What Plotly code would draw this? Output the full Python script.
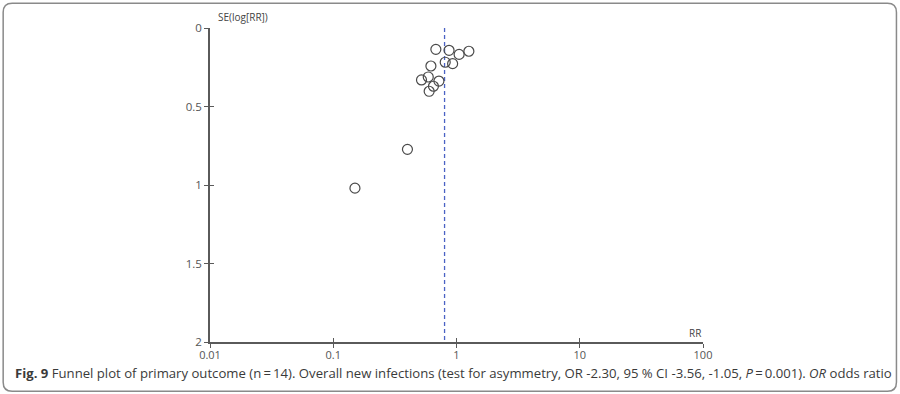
import plotly.graph_objects as go

# ---- data ----
rr = [0.68, 0.87, 1.05, 1.26, 0.81, 0.93, 0.62, 0.59, 0.52, 0.72, 0.65, 0.60, 0.40, 0.15]
se = [0.136, 0.142, 0.168, 0.148, 0.218, 0.227, 0.242, 0.312, 0.331, 0.338, 0.371, 0.403, 0.773, 1.02]
pooled_rr = 0.80
x_ticks = [0.01, 0.1, 1, 10, 100]
x_tick_text = ["0.01", "0.1", "1", "10", "100"]
y_ticks = [0, 0.5, 1, 1.5, 2]
y_tick_text = ["0", "0.5", "1", "1.5", "2"]
se_max = 2

W, H = 900, 394
L, R, T, B = 210, 196.6, 27.7, 52.3
pw, ph = W - L - R, H - T - B


def px(x):
    return (x - L) / pw


def py(y):
    return (H - B - y) / ph


AX = "#5a5a5a"
TXT = "#555555"
FONT = "Open Sans, Liberation Sans, sans-serif"

fig = go.Figure()

fig.add_trace(go.Scatter(
    x=[pooled_rr, pooled_rr], y=[0, se_max], mode="lines",
    line=dict(color="#4a62c4", width=1.3, dash="4px,3px"),
    hoverinfo="skip", showlegend=False))

fig.add_trace(go.Scatter(
    x=rr, y=se, mode="markers",
    marker=dict(symbol="circle-open", size=10, color="#4a4a4a", line=dict(width=1.2)),
    showlegend=False))

# invisible trace to carry the inner-tick axes
fig.add_trace(go.Scatter(x=[1], y=[1], xaxis="x2", yaxis="y2", mode="markers",
                         marker=dict(opacity=0), hoverinfo="skip", showlegend=False))

common = dict(showgrid=False, zeroline=False)
fig.update_layout(
    width=W, height=H,
    margin=dict(l=L, r=R, t=T, b=B, pad=0),
    paper_bgcolor="white", plot_bgcolor="white",
    font=dict(family=FONT, size=11, color=TXT),
    xaxis=dict(type="log", range=[-2, 2], tickvals=x_ticks, ticktext=x_tick_text,
               ticks="outside", ticklen=4, tickwidth=1.2, tickcolor=AX,
               ticklabelstandoff=-2,
               showline=True, linecolor=AX, linewidth=1.5, **common,
               tickfont=dict(size=11, color=TXT)),
    yaxis=dict(range=[se_max, 0], tickvals=y_ticks, ticktext=y_tick_text,
               ticks="outside", ticklen=4, tickwidth=1.2, tickcolor=AX,
               showline=True, linecolor=AX, linewidth=1.5, **common,
               tickfont=dict(size=11.5, color=TXT)),
    xaxis2=dict(type="log", range=[-2, 2], tickvals=x_ticks, overlaying="x", anchor="y",
                side="bottom", ticks="inside", ticklen=4, tickwidth=1.2, tickcolor=AX,
                showticklabels=False, showline=False, **common),
    yaxis2=dict(range=[se_max, 0], tickvals=y_ticks, overlaying="y", anchor="x",
                side="left", ticks="inside", ticklen=4, tickwidth=1.2, tickcolor=AX,
                showticklabels=False, showline=False, **common),
)

# axis titles
fig.add_annotation(text="SE(log[RR])", xref="paper", yref="paper", x=px(216), y=py(17),
                   xanchor="left", yanchor="middle", showarrow=False,
                   font=dict(size=10, color="#444444", family=FONT))
fig.add_annotation(text="RR", xref="paper", yref="paper", x=px(703), y=py(333),
                   xanchor="right", yanchor="middle", showarrow=False,
                   font=dict(size=10, color="#444444", family=FONT))

# caption
fig.add_annotation(
    text="<b>Fig. 9</b> Funnel plot of primary outcome (n\u2009=\u200914). Overall new infections "
         "(test for asymmetry, OR -2.30, 95 % CI -3.56, -1.05, <i>P</i>\u2009=\u20090.001). "
         "<i>OR</i> odds ratio",
    xref="paper", yref="paper", x=px(13), y=py(373), xanchor="left", yanchor="middle",
    showarrow=False, font=dict(size=13.15, color="#3a3a3a", family=FONT))

# rounded frame
x0, y0, x1, y1, r = 3, 3, 897, 391, 9
path = (f"M {px(x0 + r)},{py(y0)} L {px(x1 - r)},{py(y0)} "
        f"Q {px(x1)},{py(y0)} {px(x1)},{py(y0 + r)} "
        f"L {px(x1)},{py(y1 - r)} Q {px(x1)},{py(y1)} {px(x1 - r)},{py(y1)} "
        f"L {px(x0 + r)},{py(y1)} Q {px(x0)},{py(y1)} {px(x0)},{py(y1 - r)} "
        f"L {px(x0)},{py(y0 + r)} Q {px(x0)},{py(y0)} {px(x0 + r)},{py(y0)} Z")
fig.add_shape(type="path", path=path, xref="paper", yref="paper",
              line=dict(color="#8a8a8a", width=1.5), fillcolor="rgba(0,0,0,0)")

fig.write_html("out.html", config={"displayModeBar": False},
               post_script="document.body.style.margin='0';document.body.style.overflow='hidden';")
